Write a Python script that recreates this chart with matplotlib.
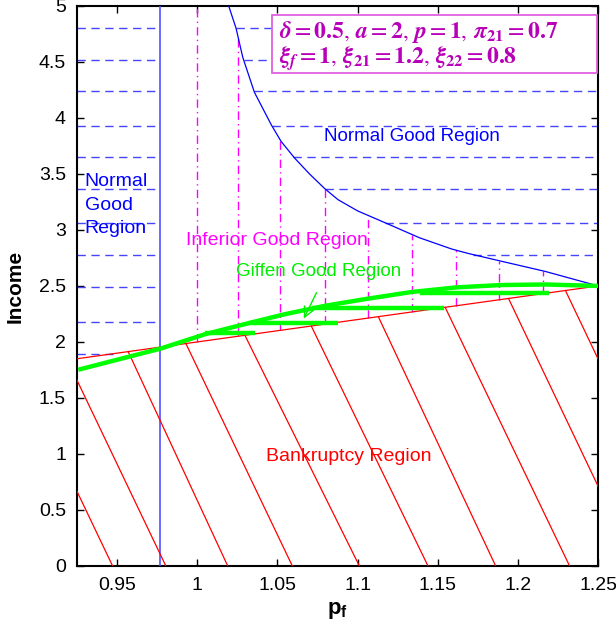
import numpy as np
import matplotlib
matplotlib.use("Agg")
import matplotlib.pyplot as plt
from matplotlib.patches import Rectangle

plt.rcParams['font.family'] = ['Liberation Sans', 'DejaVu Sans']
plt.rcParams['mathtext.fontset'] = 'custom'
plt.rcParams['mathtext.bf'] = 'Liberation Sans:bold'
plt.rcParams['mathtext.rm'] = 'Liberation Sans'

# ---------------- data ----------------
# boundary between normal and inferior good regions (blue curve)
blue_pf = [1.0196, 1.0242, 1.0284, 1.0356, 1.0461, 1.0523, 1.0608, 1.0700, 1.0794,
           1.0878, 1.1000, 1.1170, 1.1386, 1.1586, 1.1690, 1.1898, 1.2169, 1.2500]
blue_I = [5.00, 4.80, 4.54, 4.23, 3.94, 3.79, 3.64, 3.50, 3.37,
          3.27, 3.17, 3.065, 2.93, 2.83, 2.79, 2.72, 2.63, 2.50]

# vertical boundary of left normal-good region
vline_pf = 0.977

# bankruptcy line
red_pf = [0.925, 1.25]
red_I = [1.85, 2.50]

# Giffen region upper boundary (green)
green_pf = [0.9258, 0.9772, 1.0051, 1.0329, 1.0544, 1.0801, 1.1058, 1.1337,
            1.1615, 1.1894, 1.2173, 1.2500]
green_I = [1.752, 1.941, 2.07, 2.171, 2.247, 2.324, 2.385, 2.446,
           2.487, 2.508, 2.513, 2.50]
# Giffen hatch segments: level, start pf, end pf
giffen_I = [2.08, 2.171, 2.303, 2.438]
giffen_start = [1.0051, 1.0329, 1.0715, 1.1390]
giffen_end = [1.0362, 1.0876, 1.1536, 1.2194]

# horizontal dashed (normal good) levels
dash_levels = [4.80, 4.52, 4.24, 3.93, 3.655, 3.365, 3.065, 2.78, 2.487, 2.18, 1.895]

# vertical dash-dot (inferior good) positions
inf_pf = [0.9997, 1.0254, 1.0516, 1.0794, 1.1062, 1.1341, 1.1611, 1.1883, 1.2155]

# bankruptcy hatch lines: top (on red line) and bottom (at income 0) pf
hatch_top = [0.8880, 0.9190, 0.9569, 0.9929, 1.0297, 1.0711, 1.1129, 1.1546, 1.1941, 1.2296]
hatch_bot = [0.9472, 0.9804, 1.0190, 1.0593, 1.1011, 1.1439, 1.1861, 1.2322, 1.2737, 1.3116]

xticks = [0.95, 1.0, 1.05, 1.1, 1.15, 1.2, 1.25]
xticklabels = ['0.95', '1', '1.05', '1.1', '1.15', '1.2', '1.25']
yticks = [0, 0.5, 1, 1.5, 2, 2.5, 3, 3.5, 4, 4.5, 5]
yticklabels = ['0', '0.5', '1', '1.5', '2', '2.5', '3', '3.5', '4', '4.5', '5']

# ---------------- figure ----------------
fig = plt.figure(figsize=(6.16, 6.35), dpi=100)
ax = fig.add_axes([0.125, 0.1087, 0.846, 0.882])
ax.set_xlim(0.925, 1.25)
ax.set_ylim(0, 5)

def red_at(pf):
    return np.interp(pf, red_pf, red_I)

dash_col = '#4646ff'
# left region dashed lines
for lev in dash_levels:
    pf_red = np.interp(lev, red_I, red_pf)
    x_end = min(vline_pf, max(pf_red, 0.925))
    ax.plot([0.925, x_end], [lev, lev], color=dash_col, lw=1.0, dashes=(6, 4), zorder=2)
# right region dashed lines (from blue curve to right axis)
bpf_rev = blue_pf[::-1]
bI_rev = blue_I[::-1]
for lev in dash_levels:
    if lev > blue_I[-1] + 0.05:
        x0 = np.interp(lev, bI_rev, bpf_rev)
        ax.plot([x0, 1.25], [lev, lev], color=dash_col, lw=1.0, dashes=(6, 4), zorder=2)

# inferior region dash-dot verticals
for x in inf_pf:
    top = np.interp(x, blue_pf, blue_I, left=5.0)
    ax.plot([x, x], [red_at(x), top], color='#ff00ff', lw=1.0,
            dashes=(6, 3, 1, 3), zorder=2)

# blue curve and vertical line
ax.plot(blue_pf, blue_I, color='#0000ff', lw=0.9, zorder=3)
ax.plot([vline_pf, vline_pf], [0, 5], color='#5050ff', lw=1.2, zorder=3)

# bankruptcy line and hatching
ax.plot(red_pf, red_I, color='#ff0000', lw=0.9, zorder=3)
for t, b in zip(hatch_top, hatch_bot):
    ax.plot([t, b], [2 * t, 0], color='#ff0000', lw=0.9, zorder=3)

# Giffen region
ax.plot(green_pf, green_I, color='#00ff00', lw=3.2, solid_capstyle='butt', zorder=4)
for lev, s, e in zip(giffen_I, giffen_start, giffen_end):
    ax.plot([s, e], [lev, lev], color='#00ff00', lw=3.2, solid_capstyle='butt', zorder=4)

ax.annotate('', xy=(1.0657, 2.187), xytext=(1.0751, 2.462),
            arrowprops=dict(arrowstyle='->', color='#00ee00', lw=1.0, mutation_scale=18),
            zorder=5)

# region labels
fs = 14
ax.text(1.1337, 3.83, 'Normal Good Region', color='#0000ff', fontsize=13.5,
        ha='center', va='center', zorder=6)
ax.text(0.9298, 3.22, 'Normal\nGood\nRegion', color='#0000ff', fontsize=fs,
        ha='left', va='center', linespacing=1.5, zorder=6)
ax.text(1.05, 2.91, 'Inferior Good Region', color='#ff00ff', fontsize=fs,
        ha='center', va='center', zorder=6)
ax.text(1.0756, 2.625, 'Giffen Good Region', color='#00ee00', fontsize=13.5,
        ha='center', va='center', zorder=6)
ax.text(1.0943, 0.973, 'Bankruptcy Region', color='#ff0000', fontsize=fs,
        ha='center', va='center', zorder=6)

# parameter box
ax.add_patch(Rectangle((0.374, 0.880), 0.624, 0.104, transform=ax.transAxes,
                       fc='white', ec='#e060e0', lw=1.3, zorder=7))
line1 = (r'$\mathbfit{\delta} = \mathbf{0.5},\,\mathbfit{a} = \mathbf{2},\,\mathbfit{p} = \mathbf{1},\,'
         r'\mathbfit{\pi}_{\mathbf{21}} = \mathbf{0.7}$')
line2 = (r'$\mathbfit{\xi}_{\mathbfit{f}} = \mathbf{1},\,\mathbfit{\xi}_{\mathbf{21}} = \mathbf{1.2},\,'
         r'\mathbfit{\xi}_{\mathbf{22}} = \mathbf{0.8}$')
for y, s in [(0.953, line1), (0.906, line2)]:
    ax.text(0.388, y, s, transform=ax.transAxes, color='#b800b8', fontsize=17,
            ha='left', va='center', math_fontfamily='stix', zorder=8)

# axes styling
ax.set_xticks(xticks)
ax.set_xticklabels(xticklabels)
ax.set_yticks(yticks)
ax.set_yticklabels(yticklabels)
ax.tick_params(direction='in', length=5, width=1, top=True, right=True,
               labelsize=14, pad=8)
for sp in ax.spines.values():
    sp.set_linewidth(1.5)
ax.set_ylabel('Income', fontsize=15, fontweight='bold', labelpad=10)
ax.set_xlabel(r'$\mathbf{p_f}$', fontsize=16, labelpad=4)

fig.savefig('out.png', dpi=100)
